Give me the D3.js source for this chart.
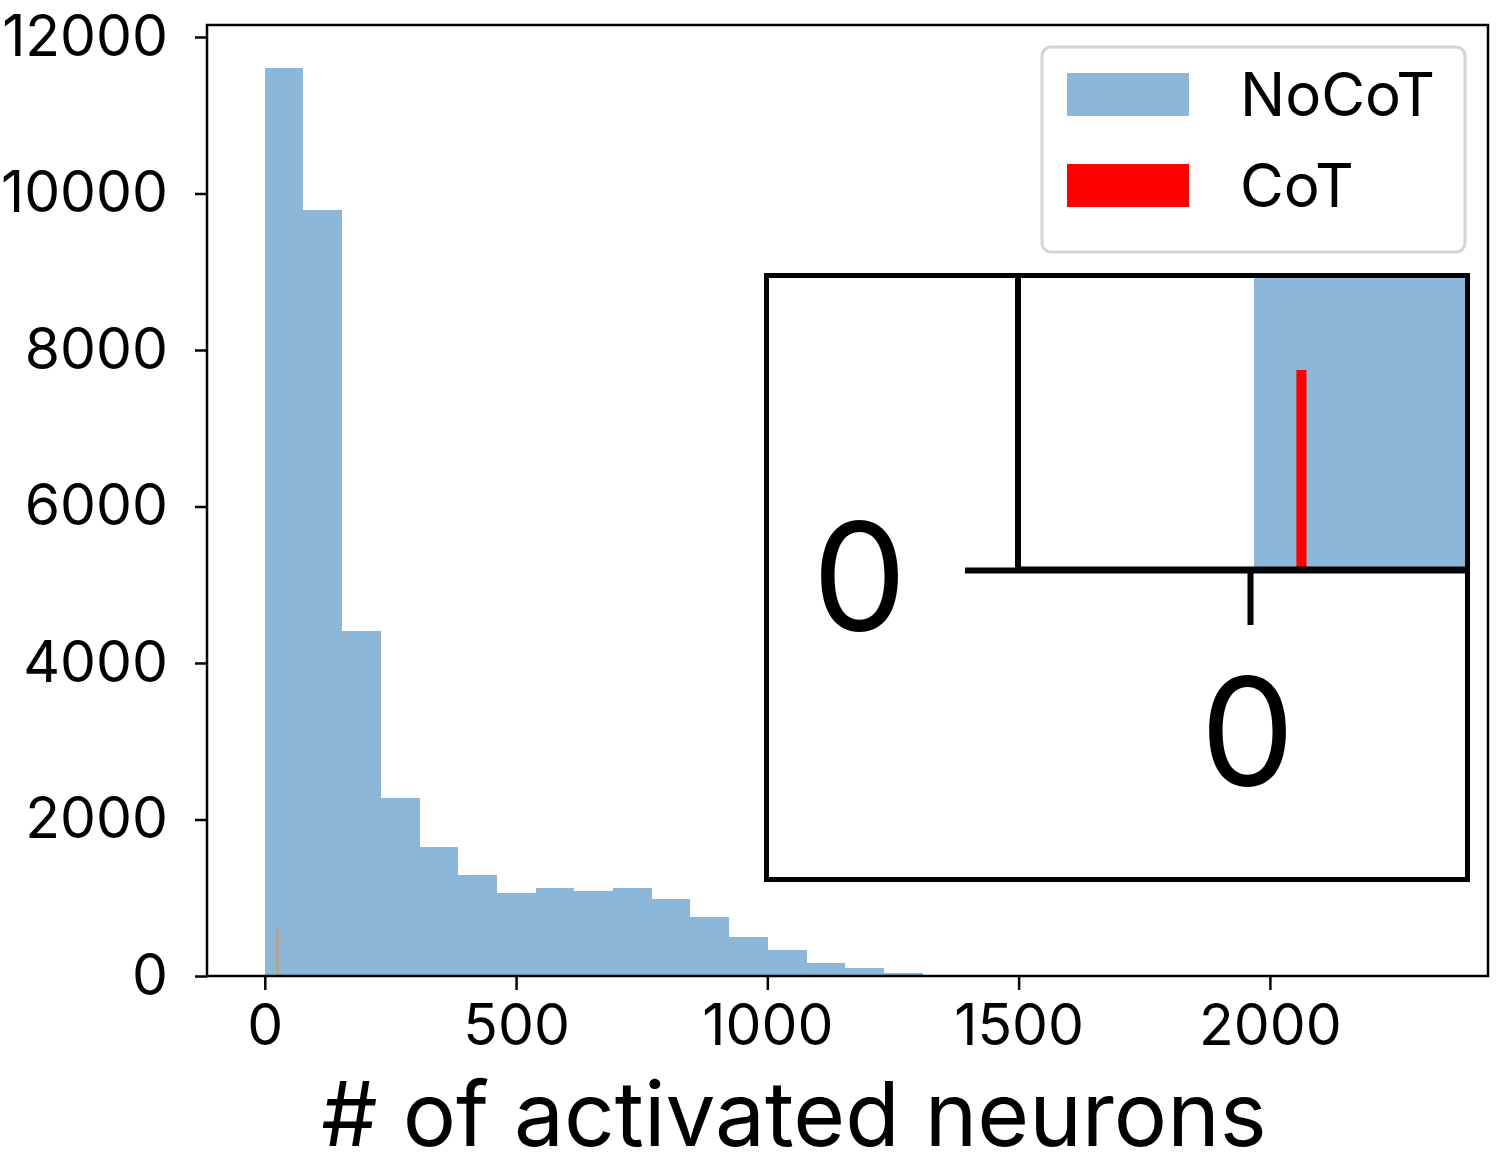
<!DOCTYPE html>
<html>
<head>
<meta charset="utf-8">
<script src="https://cdn.jsdelivr.net/npm/d3@7"></script>
<style>
  html, body { margin: 0; padding: 0; background: #ffffff; }
  svg { display: block; font-family: Inter, "Noto Sans", sans-serif; }
</style>
</head>
<body>
<svg id="chart" width="1500" height="1170"></svg>
<script>
// ---- data ----
const binEdges = [0, 77, 154, 231, 308, 385, 462, 539, 616, 693, 770, 847, 924, 1001, 1078, 1155, 1232, 1309];
const noCotCounts = [11600, 9790, 4410, 2275, 1650, 1290, 1057, 1121, 1090, 1121, 984, 758, 495, 332, 162, 98, 35];
const cotBinEdges = [23, 28];
const cotCounts = [600];
const xTicks = [0, 500, 1000, 1500, 2000];
const yTicks = [0, 2000, 4000, 6000, 8000, 10000, 12000];
const seriesNames = ["NoCoT", "CoT"];
const xLabel = "# of activated neurons";

const BLUE = "#8cb7d8";
const RED = "#ff0000";
const COT_MAIN = "#c2a07c";

const noCot = noCotCounts.map((c, i) => ({x0: binEdges[i], x1: binEdges[i + 1], c}));
const cot = cotCounts.map((c, i) => ({x0: cotBinEdges[i], x1: cotBinEdges[i + 1], c}));

const svg = d3.select("#chart");
svg.append("rect").attr("width", 1500).attr("height", 1170).attr("fill", "#fff");

// ---- main plot ----
const L = 207, R = 1488, T = 25, B = 976;
const x = d3.scaleLinear().domain([-115, 2434]).range([L, R]);
const y = d3.scaleLinear().domain([0, 12153]).range([B, T]);

const g = svg.append("g");
g.selectAll("rect.nocot").data(noCot).join("rect")
  .attr("class", "nocot")
  .attr("x", d => x(d.x0)).attr("width", d => x(d.x1) - x(d.x0))
  .attr("y", d => y(d.c)).attr("height", d => y(0) - y(d.c))
  .attr("fill", BLUE).attr("shape-rendering", "crispEdges");
g.selectAll("rect.cot").data(cot).join("rect")
  .attr("class", "cot")
  .attr("x", d => x(d.x0)).attr("width", d => x(d.x1) - x(d.x0))
  .attr("y", d => y(d.c)).attr("height", d => y(0) - y(d.c))
  .attr("fill", COT_MAIN);

// axes
const fmt = d3.format("d");
const xAxis = d3.axisBottom(x).tickValues(xTicks).tickFormat(fmt).tickSize(14).tickSizeOuter(0).tickPadding(15);
const yAxis = d3.axisLeft(y).tickValues(yTicks).tickFormat(fmt).tickSize(12).tickSizeOuter(0).tickPadding(27);

const gx = svg.append("g").attr("transform", `translate(0,${B})`).call(xAxis);
const gy = svg.append("g").attr("transform", `translate(${L},0)`).call(yAxis);
[gx, gy].forEach(a => {
  a.select(".domain").remove();
  a.selectAll(".tick line").attr("stroke", "#000").attr("stroke-width", 2.5);
  a.selectAll(".tick text").attr("fill", "#000").attr("font-size", 57).attr("font-family", "Inter, sans-serif");
});

// spines
svg.append("rect").attr("x", L).attr("y", T).attr("width", R - L).attr("height", B - T)
  .attr("fill", "none").attr("stroke", "#000").attr("stroke-width", 2.5);

// x label
svg.append("text").attr("x", 794).attr("y", 1146).attr("text-anchor", "middle")
  .attr("font-size", 89).attr("font-family", "Inter, sans-serif").attr("fill", "#000").text(xLabel);

// ---- legend ----
const lg = svg.append("g");
lg.append("rect").attr("x", 1042).attr("y", 47).attr("width", 423).attr("height", 205)
  .attr("rx", 9).attr("fill", "#fff").attr("fill-opacity", 0.8)
  .attr("stroke", "#d4d4d4").attr("stroke-width", 3);
const legendItems = [
  {name: seriesNames[0], color: BLUE, y: 73},
  {name: seriesNames[1], color: RED, y: 164}
];
legendItems.forEach(it => {
  lg.append("rect").attr("x", 1067).attr("y", it.y).attr("width", 122).attr("height", 43).attr("fill", it.color);
  lg.append("text").attr("x", 1240).attr("y", it.y + 43).attr("font-size", 60)
    .attr("font-family", "Inter, sans-serif").attr("fill", "#000").text(it.name);
});

// ---- inset (magnified view near origin) ----
const IL = 766.5, IR = 1467.5, IT = 275.5, IB = 879.5;
const defs = svg.append("defs");
defs.append("clipPath").attr("id", "insetClip").append("rect")
  .attr("x", IL).attr("y", IT).attr("width", IR - IL).attr("height", IB - IT);

const ix = d3.scaleLinear().domain([-115, 0]).range([1018, 1250]);
const iy = d3.scaleLinear().domain([0, 600]).range([570, 370]);

const ig = svg.append("g");
ig.append("rect").attr("x", IL).attr("y", IT).attr("width", IR - IL).attr("height", IB - IT).attr("fill", "#fff");
const ic = ig.append("g").attr("clip-path", "url(#insetClip)");

ic.selectAll("rect.inocot").data(noCot).join("rect")
  .attr("class", "inocot")
  .attr("x", d => ix(d.x0) + 4).attr("width", d => ix(d.x1) - ix(d.x0) + 1)
  .attr("y", d => iy(d.c)).attr("height", d => iy(0) - iy(d.c))
  .attr("fill", BLUE).attr("shape-rendering", "crispEdges");
ic.selectAll("rect.icot").data(cot).join("rect")
  .attr("class", "icot")
  .attr("x", d => ix(d.x0)).attr("width", d => ix(d.x1) - ix(d.x0))
  .attr("y", d => iy(d.c)).attr("height", d => iy(0) - iy(d.c))
  .attr("fill", RED);

// inset spines
ic.append("line").attr("x1", ix(-115)).attr("x2", ix(-115)).attr("y1", IT).attr("y2", iy(0))
  .attr("stroke", "#000").attr("stroke-width", 6);
ic.append("line").attr("x1", ix(-115)).attr("x2", IR).attr("y1", iy(0)).attr("y2", iy(0))
  .attr("stroke", "#000").attr("stroke-width", 7);

const ixAxis = d3.axisBottom(ix).tickValues([0]).tickFormat(fmt).tickSize(55).tickSizeOuter(0).tickPadding(54);
const iyAxis = d3.axisLeft(iy).tickValues([0]).tickFormat(fmt).tickSize(53).tickSizeOuter(0).tickPadding(58);
const igx = ic.append("g").attr("transform", `translate(0,${iy(0)})`).call(ixAxis);
const igy = ic.append("g").attr("transform", `translate(${ix(-115)},0)`).call(iyAxis);
[igx, igy].forEach(a => {
  a.select(".domain").remove();
  a.selectAll(".tick line").attr("stroke", "#000").attr("stroke-width", 6);
  a.selectAll(".tick text").attr("fill", "#000").attr("font-size", 150).attr("font-family", "Inter, sans-serif");
});
igx.selectAll(".tick text").attr("x", -3);
igy.selectAll(".tick text").attr("dy", "0.40em");

ig.append("rect").attr("x", IL).attr("y", IT).attr("width", IR - IL).attr("height", IB - IT)
  .attr("fill", "none").attr("stroke", "#000").attr("stroke-width", 5);
</script>
</body>
</html>
